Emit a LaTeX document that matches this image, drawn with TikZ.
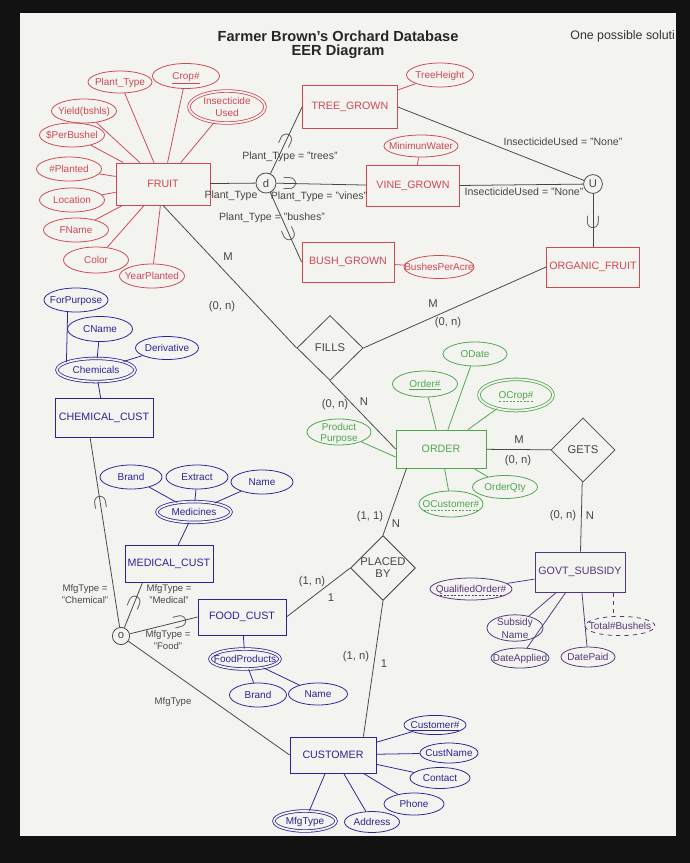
\documentclass[tikz,border=0pt]{standalone}
\usepackage{fontspec}
\setmainfont{Liberation Sans}
\usetikzlibrary{shapes.geometric, calc}
\definecolor{paper}{RGB}{243, 243, 240}
\definecolor{fruitred}{RGB}{208, 72, 82}
\definecolor{custblue}{RGB}{45, 35, 150}
\definecolor{ordgreen}{RGB}{80, 165, 80}
\definecolor{govpurple}{RGB}{85, 55, 120}
\definecolor{linegray}{RGB}{70, 70, 70}
\newcommand{\ctr}[1]{\makebox[0pt]{\raisebox{-0.5\height}[0pt][0pt]{#1}}}
\newsavebox{\undbox}
\newcommand{\dashund}[1]{\sbox{\undbox}{#1}\rlap{\raisebox{-1.9pt}{\hbox to \wd\undbox{\xleaders\hbox to 2.4pt{\hss\vrule width 1.4pt height 0.4pt\hss}\hfill}}}\usebox{\undbox}}

\begin{document}
\begin{tikzpicture}[x=0.025cm, y=-0.025cm, line width=0.55pt,
          ent/.style={draw, rectangle, minimum width=2.3cm, minimum height=1cm, inner sep=0pt,
                      font=\fontsize{7.6}{8}\selectfont},
          attr/.style={draw, ellipse, minimum width=1.6cm, minimum height=0.6cm, inner sep=0pt,
                       font=\fontsize{7.1}{7.5}\selectfont},
          multi/.style={attr, double=paper, double distance=1.3pt},
          rel/.style={draw=linegray, diamond, inner sep=0pt, text=linegray,
                      font=\fontsize{8}{8.5}\selectfont, align=center},
          disj/.style={draw=linegray, circle, inner sep=0pt, text=linegray,
                       font=\fontsize{8}{8}\selectfont},
          link/.style={draw=linegray},
          lbl/.style={text=linegray, inner sep=0pt, font=\fontsize{7.5}{8}\selectfont},
          mfg/.style={lbl, align=center, font=\fontsize{6.8}{8.2}\selectfont},
          card/.style={text=linegray, inner sep=0pt, font=\fontsize{8}{8}\selectfont},
          subs/.style={sloped, allow upside down, inner sep=0pt, text=linegray,
                       font=\fontsize{14}{14}\selectfont},
          fruitc/.style={draw=fruitred, text=fruitred},
          custc/.style={draw=custblue, text=custblue},
          ordc/.style={draw=ordgreen, text=ordgreen},
          govc/.style={draw=govpurple, text=govpurple},
        ]
        % screen and sheet
        \fill[black!93] (0,0) rectangle (690,863);
        \fill[paper] (20,13) rectangle (676,836);

        \node[font=\fontsize{10.4}{11}\selectfont\bfseries, text=black!85] (title) at (338,36) {Farmer Brown's Orchard Database};
        \node[font=\fontsize{10.4}{11}\selectfont\bfseries, text=black!85] (subtitle) at (338,52) {EER Diagram};
        \node[anchor=west, inner sep=0pt, font=\fontsize{8.8}{9}\selectfont, text=black!80] (note) at (570,36) {One possible soluti};

        % entities
        \node[ent, fruitc, minimum width=2.35cm, minimum height=1.05cm] (fruit) at (163,184) {FRUIT};
        \node[ent, fruitc, minimum width=2.375cm, minimum height=1.075cm] (tree) at (350,107) {TREE\_GROWN};
        \node[ent, fruitc, minimum width=2.325cm, minimum height=1.025cm] (vine) at (413,186) {VINE\_GROWN};
        \node[ent, fruitc] (bush) at (348,262) {BUSH\_GROWN};
        \node[ent, fruitc, minimum width=2.325cm] (organic) at (593,267) {ORGANIC\_FRUIT};
        \node[ent, ordc, minimum width=2.25cm, minimum height=0.95cm] (order) at (441,449) {ORDER};
        \node[ent, govc, minimum width=2.25cm] (govt) at (580,572) {GOVT\_SUBSIDY};
        \node[ent, custc, minimum width=2.45cm, minimum height=0.975cm] (chem) at (104,418) {CHEMICAL\_CUST};
        \node[ent, custc, minimum width=2.2cm, minimum height=0.925cm] (medical) at (169,564) {MEDICAL\_CUST};
        \node[ent, custc, minimum width=2.2cm, minimum height=0.9cm] (food) at (242,617) {FOOD\_CUST};
        \node[ent, custc, minimum width=2.15cm, minimum height=0.9cm] (customer) at (333,755) {CUSTOMER};

        % relationships and circles
        \node[rel, minimum width=1.65cm, minimum height=1.625cm] (fills) at (330,348) {FILLS};
        \node[rel, minimum width=1.6cm, minimum height=1.6cm] (gets) at (583,450) {GETS};
        \node[rel, minimum width=1.6cm, minimum height=1.5cm] (placed) at (383,568) {PLACED\\BY};
        \node[disj, minimum size=0.5cm] (dcirc) at (266,183) {d};
        \node[disj, minimum size=0.47cm] (ucirc) at (593,184) {U};
        \node[disj, minimum size=0.43cm] (ocirc) at (121,636) {o};

        % FRUIT attributes
        \node[attr, fruitc, minimum height=0.55cm] (aptype) at (120,82) {\ctr{Plant\_Type}};
        \node[attr, fruitc, minimum width=1.675cm, minimum height=0.625cm] (acrop) at (186,76) {\ctr{\underline{Crop\#}}};
        \node[multi, fruitc, minimum width=1.9cm, minimum height=0.8cm] (ainsect) at (227,107) {\ctr{\shortstack{Insecticide\\Used}}};
        \node[attr, fruitc, minimum width=1.625cm] (ayield) at (84,111) {\ctr{Yield(bshls)}};
        \node[attr, fruitc, minimum width=1.625cm] (aperbush) at (72,135) {\ctr{\$PerBushel}};
        \node[attr, fruitc, minimum width=1.625cm] (aplanted) at (69,169) {\ctr{\#Planted}};
        \node[attr, fruitc, minimum width=1.625cm] (aloc) at (72,200) {\ctr{Location}};
        \node[attr, fruitc, minimum width=1.625cm] (afname) at (76,230) {\ctr{FName}};
        \node[attr, fruitc, minimum width=1.625cm, minimum height=0.65cm] (acolor) at (96,260) {\ctr{Color}};
        \node[attr, fruitc, minimum width=1.625cm] (ayear) at (152,276) {\ctr{YearPlanted}};
        \node[attr, fruitc, minimum width=1.675cm] (atreeh) at (440,75) {\ctr{TreeHeight}};
        \node[attr, fruitc, minimum width=1.85cm, minimum height=0.55cm] (awater) at (421,146) {\ctr{MinimunWater}};
        \node[attr, fruitc, minimum width=1.75cm, minimum height=0.575cm] (abushes) at (439,267) {\ctr{BushesPerAcre}};

        % ORDER attributes
        \node[attr, ordc] (aodate) at (475,354) {\ctr{ODate}};
        \node[attr, ordc, minimum width=1.625cm, minimum height=0.65cm] (aorderno) at (425,384) {\ctr{\underline{Order\#}}};
        \node[multi, ordc, minimum width=1.85cm, minimum height=0.78cm] (aocrop) at (516,395) {\ctr{\dashund{OCrop\#}}};
        \node[attr, ordc, minimum height=0.65cm] (aprod) at (339,432) {\ctr{\shortstack{Product\\Purpose}}};
        \node[attr, ordc, minimum width=1.625cm, minimum height=0.575cm] (aqty) at (505,487) {\ctr{OrderQty}};
        \node[attr, ordc, minimum height=0.65cm] (aocust) at (451,504) {\ctr{\dashund{OCustomer\#}}};

        % GOVT_SUBSIDY attributes
        \node[attr, govc, minimum width=2.05cm, minimum height=0.55cm] (aqual) at (471,589) {\ctr{\dashund{QualifiedOrder\#}}};
        \node[attr, govc, minimum width=1.4cm, minimum height=0.66cm] (asubname) at (515,628) {\ctr{\shortstack{Subsidy\\Name}}};
        \node[attr, govc, minimum width=1.45cm, minimum height=0.5cm] (adapp) at (520,658) {\ctr{DateApplied}};
        \node[attr, govc, minimum width=1.35cm, minimum height=0.5cm] (adpaid) at (588,657) {\ctr{DatePaid}};
        \node[attr, govc, dashed, minimum width=1.75cm, minimum height=0.48cm] (atotal) at (620,626) {\ctr{Total\#Bushels}};

        % customer side attributes
        \node[attr, custc] (aforp) at (76,300) {\ctr{ForPurpose}};
        \node[attr, custc, minimum width=1.625cm, minimum height=0.625cm] (acname) at (100,329) {\ctr{CName}};
        \node[attr, custc, minimum width=1.575cm, minimum height=0.575cm] (aderiv) at (167,348) {\ctr{Derivative}};
        \node[multi, custc, minimum width=1.95cm, minimum height=0.58cm] (achems) at (96,370) {\ctr{Chemicals}};
        \node[attr, custc, minimum width=1.55cm] (abrand) at (131,477) {\ctr{Brand}};
        \node[attr, custc, minimum width=1.55cm] (aextract) at (197,477) {\ctr{Extract}};
        \node[attr, custc, minimum width=1.55cm] (aname) at (262,482) {\ctr{Name}};
        \node[multi, custc, minimum width=1.85cm, minimum height=0.52cm] (amedic) at (194,512) {\ctr{Medicines}};
        \node[multi, custc, minimum width=1.75cm, minimum height=0.5cm] (afoodp) at (245,659) {\ctr{FoodProducts}};
        \node[attr, custc, minimum width=1.425cm] (afbrand) at (258,695) {\ctr{Brand}};
        \node[attr, custc, minimum width=1.475cm, minimum height=0.55cm] (afoodname) at (318,694) {\ctr{Name}};
        \node[attr, custc, minimum width=1.55cm, minimum height=0.48cm] (acustno) at (435,725) {\ctr{\underline{Customer\#}}};
        \node[attr, custc, minimum width=1.45cm, minimum height=0.5cm] (acustname) at (449,753) {\ctr{CustName}};
        \node[attr, custc, minimum width=1.5cm, minimum height=0.525cm] (acontact) at (440,778) {\ctr{Contact}};
        \node[attr, custc, minimum width=1.5cm, minimum height=0.55cm] (aphone) at (414,804) {\ctr{Phone}};
        \node[attr, custc, minimum width=1.375cm, minimum height=0.525cm] (aaddress) at (372,822) {\ctr{Address}};
        \node[multi, custc, minimum width=1.55cm, minimum height=0.5cm] (amfg) at (305,821) {\ctr{MfgType}};

        % attribute lines
        \draw[fruitred] (fruit) -- (aptype);  \draw[fruitred] (fruit) -- (acrop);
        \draw[fruitred] (fruit) -- (ainsect); \draw[fruitred] (fruit) -- (ayield);
        \draw[fruitred] (fruit) -- (aperbush); \draw[fruitred] (fruit) -- (aplanted);
        \draw[fruitred] (fruit) -- (aloc);    \draw[fruitred] (fruit) -- (afname);
        \draw[fruitred] (fruit) -- (acolor);  \draw[fruitred] (fruit) -- (ayear);
        \draw[fruitred] (tree) -- (atreeh);
        \draw[fruitred] (vine) -- (awater);
        \draw[fruitred] (bush) -- (abushes);
        \draw[ordgreen] (order) -- (aodate);  \draw[ordgreen] (order) -- (aorderno);
        \draw[ordgreen] (order) -- (aocrop);  \draw[ordgreen] (order.190) -- (aprod);
        \draw[ordgreen] (order) -- (aqty);    \draw[ordgreen] (order) -- (aocust);
        \draw[govpurple] (govt) -- (aqual);   \draw[govpurple] (govt) -- (asubname);
        \draw[govpurple] (govt) -- (adapp);   \draw[govpurple] (govt) -- (adpaid);
        \coordinate (govfoot) at ($(govt.south west)!0.87!(govt.south east)$);
        \draw[govpurple, dashed] (govfoot) -- (govfoot |- atotal.north);
        \draw[custblue] (chem) -- (achems);   \draw[custblue] (achems) -- (acname);
        \draw[custblue] (achems) -- (aderiv); \draw[custblue] (aforp.235) -- (achems.165);
        \draw[custblue] (medical) -- (amedic);
        \draw[custblue] (amedic) -- (abrand); \draw[custblue] (amedic) -- (aextract);
        \draw[custblue] (amedic) -- (aname);
        \draw[custblue] (food) -- (afoodp);
        \draw[custblue] (afoodp) -- (afbrand); \draw[custblue] (afoodp) -- (afoodname);
        \draw[custblue] (customer) -- (acustno);   \draw[custblue] (customer) -- (acustname);
        \draw[custblue] (customer) -- (acontact);  \draw[custblue] (customer) -- (aphone);
        \draw[custblue] (customer) -- (aaddress);  \draw[custblue] (customer) -- (amfg);

        % FRUIT specialization
        \draw[link] (fruit) -- (dcirc);
        \draw[link] (dcirc) -- node[subs, pos=0.5] {$\supset$} (tree.west);
        \draw[link] (dcirc) -- node[subs, pos=0.15] {$\supset$} (vine);
        \draw[link] (dcirc) -- node[subs, pos=0.6] {$\supset$} (bush.west);
        \node[lbl] (ltrees) at (290,157) {Plant\_Type = "trees"};
        \node[lbl] (lptype) at (231,196) {Plant\_Type};
        \node[lbl] (lvines) at (319,197) {Plant\_Type = "vines"};
        \node[lbl] (lbushes) at (272,218) {Plant\_Type = "bushes"};

        % union category
        \draw[link] (tree.east) -- (ucirc);
        \draw[link] (vine) -- (ucirc);
        \draw[link] (ucirc) -- node[subs, pos=0.55] {$\supset$} (organic);
        \node[lbl] (lins1) at (563,142) {InsecticideUsed = "None"};
        \node[lbl] (lins2) at (524,192) {InsecticideUsed = "None"};

        % FILLS
        \draw[link] (fruit.south) -- (fills.west);
        \draw[link] (fills.south) -- (order.west);
        \draw[link] (organic.west) -- (fills.east);
        \node[card] (cfm) at (228,257) {M};
        \node[card] (cfa) at (222,307) {(0, n)};
        \node[card] (com) at (433,304) {M};
        \node[card] (coa) at (448,323) {(0, n)};
        \node[card] (cob) at (335,405) {(0, n)};
        \node[card] (con) at (364,402) {N};

        % GETS
        \draw[link] (order) -- (gets);
        \draw[link] (gets) -- (govt);
        \node[card] (cgm) at (519,440) {M};
        \node[card] (cga) at (518,461) {(0, n)};
        \node[card] (cgb) at (563,516) {(0, n)};
        \node[card] (cgn) at (590,516) {N};

        % PLACED BY
        \coordinate (orderfoot) at ($(order.south west)!0.12!(order.south east)$);
        \coordinate (custtop) at ($(customer.north)!0.7!(customer.north east)$);
        \draw[link] (orderfoot) -- (placed.north);
        \draw[link] (food.east) -- (placed.west);
        \draw[link] (placed.south) -- (custtop);
        \node[card] (cpa) at (370,517) {(1, 1)};
        \node[card] (cpn) at (396,524) {N};
        \node[card] (cpb) at (312,582) {(1, n)};
        \node[card] (cp1) at (331,598) {1};
        \node[card] (cpc) at (356,657) {(1, n)};
        \node[card] (cp2) at (384,664) {1};

        % CUSTOMER overlap specialization
        \coordinate (chemfoot) at ($(chem.south west)!0.36!(chem.south east)$);
        \coordinate (medfoot) at ($(medical.south west)!0.2!(medical.south east)$);
        \draw[link] (ocirc) -- node[subs, pos=0.66] {$\supset$} (chemfoot);
        \draw[link] (ocirc) -- node[subs, pos=0.57] {$\supset$} (medfoot);
        \draw[link] (ocirc) -- node[subs, pos=0.74] {$\supset$} (food.west);
        \draw[link] (ocirc) -- (customer.west);
        \node[mfg] (lchem) at (85,594) {MfgType =\\"Chemical"};
        \node[mfg] (lmed) at (169,594) {MfgType =\\"Medical"};
        \node[mfg] (lfood) at (168,640) {MfgType =\\"Food"};
        \node[mfg] (lmfg) at (173,702) {MfgType};
      \end{tikzpicture}
\end{document}
